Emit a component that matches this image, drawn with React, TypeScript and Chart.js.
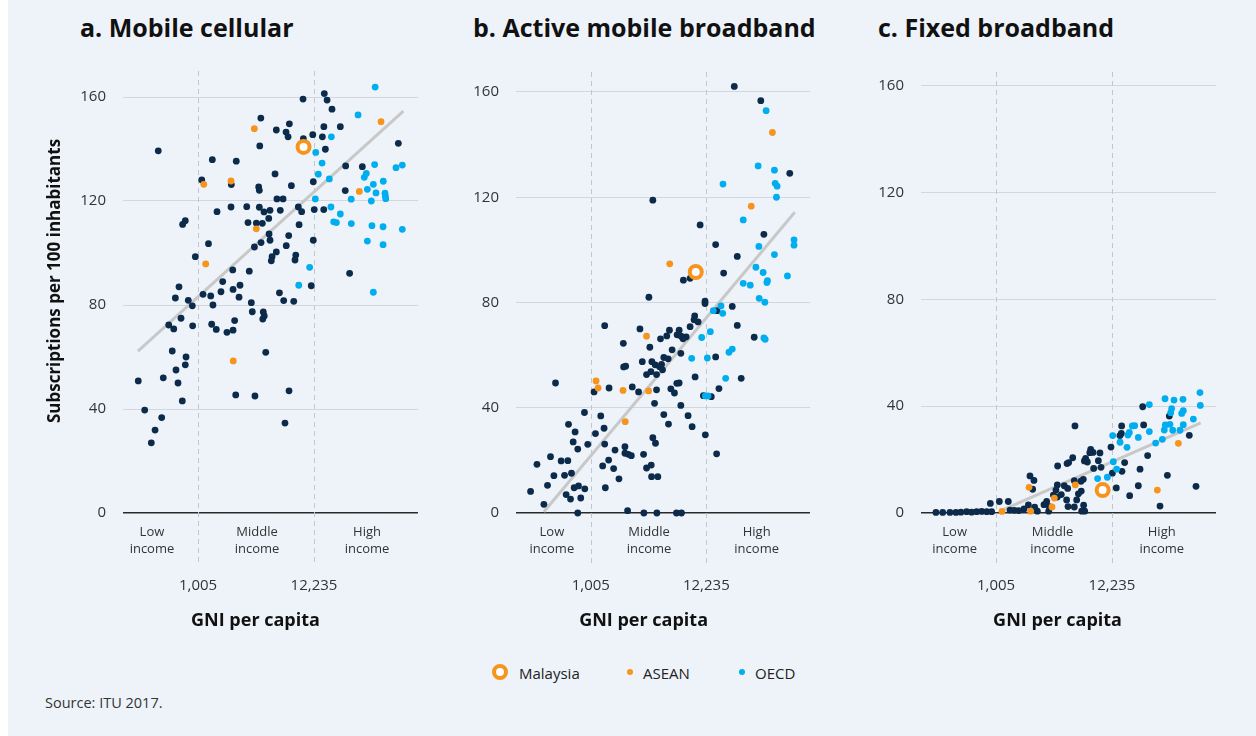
import React, { useEffect, useRef } from 'react';
import { Chart, registerables } from 'chart.js';

Chart.register(...registerables);

const FONT = '"Open Sans", "Noto Sans", sans-serif';
const NAVY = '#0c2b4b';
const ORANGE = '#f7941d';
const BLUE = '#00aeef';
const BG = '#eef3fa';

// ---- axis values ----
const GNI_THRESHOLDS = [1005, 12235];
const GNI_TICK_LABELS = ['1,005', '12,235'];
const Y_TICKS = [0, 40, 80, 120, 160];
const INCOME_GROUPS = [['Low', 'income'], ['Middle', 'income'], ['High', 'income']];
const PANEL_TITLES = ['a. Mobile cellular', 'b. Active mobile broadband', 'c. Fixed broadband'];
const LEGEND_LABELS = ['Malaysia', 'ASEAN', 'OECD'];
const Y_TITLE = 'Subscriptions per 100 inhabitants';
const X_TITLE = 'GNI per capita';

// ---- data: [log10 GNI per capita, subscriptions per 100 inhabitants] ----
// a. Mobile cellular
const cellOther: [number, number][] = [
  [2.63, 139.3], [3.037, 128.1], [3.136, 135.9], [3.314, 126.3], [3.36, 135.3], [3.59, 151.9], [3.58, 141.2],
  [3.735, 147.3], [3.826, 146.5], [3.857, 149.7], [3.845, 144.7], [3.985, 159.2], [3.988, 144], [4.076, 145.5],
  [4.184, 161.3], [4.21, 158.8], [4.256, 155.3], [4.18, 148.6], [4.166, 144.7], [4.194, 139.9], [4.334, 148.6],
  [4.384, 133.5], [4.54, 133.2], [4.877, 142.2], [4.081, 127.4], [4.38, 124], [3.876, 125.9], [3.741, 120.8],
  [3.798, 120.8], [3.57, 125.4], [3.576, 124.1], [3.723, 130.4], [3.311, 117.7], [3.458, 117.8], [3.576, 117.6],
  [3.676, 116.4], [3.62, 115.8], [3.772, 116.4], [3.941, 117.7], [3.972, 115.9], [4.09, 116.7], [4.179, 116.7],
  [3.18, 115.9], [2.858, 111], [2.883, 112.4], [3.47, 111.7], [3.548, 111.5], [3.604, 111.4], [3.664, 113.3],
  [3.948, 110.9], [3.1, 103.6], [3.667, 107.3], [3.851, 106.7], [4.081, 104.9], [3.676, 104.9], [3.592, 104],
  [3.53, 102.3], [3.828, 102.8], [2.977, 98.6], [3.735, 100.4], [3.695, 98.6], [3.688, 97], [3.917, 99.2],
  [3.91, 97.3], [3.327, 93.5], [3.482, 93], [4.421, 92.2], [4.062, 87.4], [3.233, 89], [3.395, 87.6], [3.33, 86],
  [3.217, 85.1], [2.824, 87], [3.764, 84.7], [2.79, 82.7], [3.049, 84.1], [3.121, 83.5], [2.911, 81.8],
  [2.949, 79.7], [3.142, 80], [3.386, 83], [3.501, 80.9], [3.804, 81.7], [3.898, 81.4], [2.728, 72.3],
  [2.775, 70.8], [2.843, 74.9], [2.952, 72], [3.13, 72.6], [3.173, 70.6], [3.273, 69.5], [3.33, 70.3],
  [3.345, 74], [3.51, 77.4], [3.613, 77.3], [3.622, 75.8], [3.608, 74.6], [2.761, 62.3], [2.89, 60], [2.883, 57],
  [2.796, 55], [2.815, 50], [2.677, 52], [2.443, 50.8], [2.855, 43.1], [2.503, 39.6], [2.662, 36.7], [2.6, 31.9],
  [2.565, 27], [3.636, 61.8], [3.355, 45.4], [3.535, 45], [3.854, 47], [3.816, 34.6],
];
const cellAsean: [number, number][] = [
  [3.056, 126.4], [3.311, 127.7], [3.529, 147.8], [4.715, 150.5], [4.512, 123.7], [3.548, 109.3], [3.074, 95.8], [3.332, 58.5],
];
const cellOecd: [number, number][] = [
  [4.25, 144.7], [4.104, 138.7], [4.5, 153.1], [4.66, 163.8], [4.163, 134.6], [4.128, 130.3], [4.231, 128.5],
  [4.655, 134], [4.558, 129.1], [4.577, 130.6], [4.855, 132.8], [4.914, 133.8], [4.736, 127.6], [4.643, 126.4],
  [4.587, 124.5], [4.668, 123.1], [4.752, 123], [4.755, 121.9], [4.759, 120.9], [4.436, 120.7], [4.624, 120],
  [4.1, 120.8], [4.246, 117.7], [4.334, 115], [4.272, 112], [4.297, 111.7], [4.437, 111.3], [4.63, 110.5],
  [4.734, 110.1], [4.914, 109.1], [4.587, 104.6], [4.734, 103.2], [4.047, 94.5], [4.643, 84.9], [3.945, 87.6],
];
const cellMalaysia: [number, number][] = [[3.99, 140.8]];
const cellTrend: [number, number][] = [[2.44, 62.3], [4.924, 154.6]];

// b. Active mobile broadband
const mobileOther: [number, number][] = [
  [4.35, 162.1], [4.599, 156.7], [4.871, 129.1], [3.585, 118.9], [4.029, 109.5], [4.628, 105.9], [4.175, 102],
  [4.378, 97.5], [3.872, 88.5], [3.935, 89.2], [4.25, 91.2], [3.548, 82], [4.075, 80.5], [4.075, 79.6],
  [4.331, 78.5], [4.188, 76.9], [3.978, 74.9], [3.972, 73.4], [4.01, 72.6], [3.935, 70.8], [4.378, 71.3],
  [3.133, 71.2], [3.464, 69.96], [3.741, 69.5], [3.716, 67.3], [3.657, 66.2], [3.832, 69.5], [3.813, 67.7],
  [3.851, 67.2], [3.898, 66.9], [3.869, 66.2], [4.537, 66.8], [3.308, 64.5], [3.557, 63], [3.766, 62],
  [3.848, 60.7], [4.175, 59.3], [3.729, 58.6], [3.688, 59.1], [3.667, 56.5], [3.648, 55.6], [3.576, 57.5],
  [3.607, 56.3], [3.486, 57.5], [3.33, 55.8], [3.311, 55.5], [3.526, 52.6], [3.567, 53.7], [3.62, 52.6],
  [3.676, 54.4], [3.982, 51.7], [4.415, 51.2], [2.671, 49.4], [3.033, 46], [3.174, 47.5], [3.392, 47.9],
  [3.451, 46], [3.62, 46.8], [3.754, 47.2], [3.81, 49.3], [3.788, 45.6], [3.832, 49.4], [4.206, 47.3],
  [4.134, 44.2], [4.06, 44.6], [3.601, 41.7], [3.848, 40.9], [3.688, 37.4], [3.916, 37], [3.732, 33.8],
  [3.954, 32.8], [4.078, 29.7], [4.184, 22.5], [2.943, 38.2], [3.096, 36.9], [2.793, 33.7], [2.855, 30.8],
  [3.127, 32.2], [3.046, 30.2], [2.837, 27], [2.88, 24.3], [2.974, 26.1], [3.133, 26.2], [3.23, 23.9],
  [3.323, 25.2], [3.323, 22.7], [3.355, 22.3], [3.383, 21.8], [3.585, 28.6], [3.61, 26.5], [3.498, 22.3],
  [3.17, 20.1], [3.114, 17.9], [3.217, 16.9], [3.267, 13], [3.526, 17.1], [3.57, 18.2], [3.573, 13.8],
  [3.632, 13.8], [3.139, 9.6], [2.624, 21.4], [2.497, 18.5], [2.724, 19.8], [2.787, 19.9], [2.656, 14.2],
  [2.756, 14.3], [2.821, 15.1], [2.596, 10.5], [2.437, 8.2], [2.771, 7], [2.812, 5.3], [2.846, 9.6],
  [2.887, 10.3], [2.908, 5.7], [2.946, 9.2], [2.562, 3.3], [2.88, 0], [3.348, 0.9], [3.501, 0], [3.623, 0],
  [3.807, 0], [3.854, 0],
];
const mobileAsean: [number, number][] = [
  [4.708, 144.6], [4.509, 116.6], [3.744, 94.7], [3.526, 67.2], [3.052, 50.2], [3.071, 47.5], [3.305, 46.6],
  [3.545, 46.4], [3.326, 34.7],
];
const mobileOecd: [number, number][] = [
  [4.649, 152.9], [4.574, 131.9], [4.727, 130.3], [4.244, 125], [4.734, 125.3], [4.752, 124.2], [4.746, 120],
  [4.434, 111.4], [4.911, 103.8], [4.911, 101.8], [4.581, 101.3], [4.727, 98.2], [4.553, 93.4], [4.621, 91.4],
  [4.662, 88.3], [4.656, 87.6], [4.849, 90.1], [4.434, 87.3], [4.5, 86.6], [4.584, 81.6], [4.637, 80.1],
  [4.153, 76.9], [4.225, 78.7], [4.241, 75.9], [4.044, 66.7], [4.125, 68.9], [4.628, 66.5], [4.64, 66],
  [4.331, 62.3], [4.3, 61.1], [3.95, 58.8], [4.097, 58.9], [4.269, 51.2], [4.078, 44.5], [4.103, 44.5],
];
const mobileMalaysia: [number, number][] = [[3.988, 91.6]];
const mobileTrend: [number, number][] = [[2.562, 0.5], [4.918, 114.3]];

// c. Fixed broadband
const fixedOther: [number, number][] = [
  [4.375, 39.8], [4.624, 36.3], [4.811, 29.1], [4.606, 14.1], [4.874, 10], [4.537, 2.6], [4.421, 21.5],
  [4.35, 16.4], [4.334, 10.2], [4.253, 6.5], [4.181, 15.6], [4.206, 18.9], [4.384, 33], [4.178, 32.6],
  [4.175, 29.8], [4.162, 29], [4.078, 24.7], [4.091, 14.9], [4.128, 9.4], [3.975, 22.5], [3.888, 23.8],
  [3.91, 22.7], [3.88, 22.6], [3.96, 19.6], [3.985, 17.1], [3.916, 16.7], [3.841, 20.5], [3.829, 19.5],
  [3.857, 19.1], [3.72, 20.7], [3.682, 18.9], [3.667, 18.5], [3.741, 32.6], [3.579, 17.6], [3.819, 12.6],
  [3.797, 11.9], [3.735, 12.1], [3.641, 10.2], [3.673, 9.2], [3.576, 10.5], [3.563, 8.6], [3.539, 6.7],
  [3.576, 6], [3.613, 6.9], [3.773, 7.2], [3.8, 8.2], [3.757, 4.9], [3.663, 4.9], [3.676, 2.4], [3.735, 2.25],
  [3.822, 2.9], [3.832, 0.7], [3.804, 0.7], [3.476, 4.3], [3.451, 3.1], [3.501, 2.4], [3.495, 0.7],
  [3.32, 13.9], [3.357, 12.2], [3.345, 8.9], [3.305, 3], [3.264, 1.5], [3.389, 0.7], [3.364, 2.2],
  [3.117, 4.3], [3.033, 4.3], [3.214, 0.9], [3.174, 1], [3.133, 1.1], [2.949, 3.6], [2.44, 0.2], [2.503, 0.2],
  [2.571, 0.2], [2.627, 0.2], [2.674, 0.3], [2.727, 0.5], [2.774, 0.3], [2.821, 0.5], [2.868, 0.6],
  [2.915, 0.5], [2.961, 0.5],
];
const fixedAsean: [number, number][] = [
  [4.709, 26.1], [4.512, 8.6], [3.744, 10.5], [3.548, 5.6], [3.526, 2.25], [3.311, 9.6], [3.326, 0.7], [3.058, 0.6],
];
const fixedOecd: [number, number][] = [
  [4.911, 45.1], [4.914, 40.3], [4.584, 42.8], [4.668, 42.3], [4.752, 42.6], [4.437, 40.6], [4.646, 39.1],
  [4.637, 37.6], [4.755, 38.3], [4.74, 37.3], [4.849, 35.2], [4.63, 33.2], [4.577, 31.1], [4.656, 31],
  [4.724, 31], [4.755, 33.1], [4.587, 33], [4.559, 27.6], [4.496, 26.2], [4.278, 32.6], [4.3, 32.7],
  [4.25, 30.2], [4.237, 29.2], [4.334, 28.3], [4.437, 30.5], [4.094, 29], [4.163, 26.5], [4.228, 24.6],
  [4.1, 19.2], [4.131, 16.4], [4.044, 13.4], [3.953, 12.9],
];
const fixedMalaysia: [number, number][] = [[4.0, 8.6]];
const fixedTrend: [number, number][] = [[3.061, 1.1], [4.918, 33.8]];

// ---- layout (page pixels) ----
const X_MIN = 2.3;
const X_MAX = 5.061;
const CANVAS_BOTTOM = 640;
const PLOT_BOTTOM = 513;
const Y_AXIS_W = 93;
const RIGHT_PAD = 12;
const Y_TICK_PAD = 17;
const Y_TICK_FONT = 15;
// Chart.js reserves (label half-height + tick padding) above the plot of a vertical axis
const TOP_RESERVE = (Y_TICK_FONT * 1.2) / 2 + Y_TICK_PAD;

const PANELS = [
  { other: cellOther, asean: cellAsean, oecd: cellOecd, my: cellMalaysia, trend: cellTrend, yMax: 170,
    left: 123, right: 418, top: 71, yTitle: true, titleX: 80, incomeAt: [2.571, 3.554, 4.584], xTitleAt: 3.54 },
  { other: mobileOther, asean: mobileAsean, oecd: mobileOecd, my: mobileMalaysia, trend: mobileTrend, yMax: 167.6,
    left: 516, right: 810, top: 72, yTitle: false, titleX: 473, incomeAt: [2.637, 3.55, 4.56], xTitleAt: 3.498 },
  { other: fixedOther, asean: fixedAsean, oecd: fixedOecd, my: fixedMalaysia, trend: fixedTrend, yMax: 165.2,
    left: 921, right: 1216, top: 72, yTitle: false, titleX: 878, incomeAt: [2.615, 3.531, 4.553], xTitleAt: 3.578 },
];

const toPts = (arr: [number, number][]) => arr.map(([x, y]) => ({ x, y }));

const decorPlugin = {
  id: 'decor',
  beforeDatasetsDraw(chart: any) {
    const { ctx, chartArea, scales } = chart;
    const x = scales.x;
    ctx.save();
    ctx.strokeStyle = '#c3c7cd';
    ctx.lineWidth = 1;
    ctx.setLineDash([5, 4]);
    GNI_THRESHOLDS.forEach((g) => {
      const px = Math.round(x.getPixelForValue(Math.log10(g))) + 0.5;
      ctx.beginPath();
      ctx.moveTo(px, chartArea.top);
      ctx.lineTo(px, chartArea.bottom + 52);
      ctx.stroke();
    });
    ctx.restore();
  },
  afterDraw(chart: any, _args: any, opts: any) {
    const { ctx, chartArea, scales } = chart;
    const x = scales.x;
    ctx.save();
    ctx.textAlign = 'center';
    ctx.textBaseline = 'middle';
    ctx.fillStyle = '#333';
    ctx.font = `13px ${FONT}`;
    INCOME_GROUPS.forEach((lines, i) => {
      const px = x.getPixelForValue(opts.incomeAt[i]);
      lines.forEach((t, j) => ctx.fillText(t, px, chartArea.bottom + 19 + j * 17));
    });
    ctx.fillStyle = '#111';
    ctx.font = `bold 18px ${FONT}`;
    ctx.fillText(X_TITLE, x.getPixelForValue(opts.xTitleAt), chartArea.bottom + 108);
    if (opts.yTitle) {
      ctx.translate(chartArea.left - 68, chartArea.top + 210);
      ctx.rotate(-Math.PI / 2);
      ctx.font = `bold 17px ${FONT}`;
      ctx.fillText(Y_TITLE, 0, 0);
    }
    ctx.restore();
  },
};

function Panel({ p }: { p: (typeof PANELS)[number] }) {
  const ref = useRef<HTMLCanvasElement | null>(null);
  const canvasTop = p.top - TOP_RESERVE;
  const width = p.right - p.left + Y_AXIS_W + RIGHT_PAD;
  const height = CANVAS_BOTTOM - canvasTop;
  useEffect(() => {
    if (!ref.current) return;
    const dot = (data: [number, number][], color: string, order: number) => ({
      data: toPts(data),
      backgroundColor: color,
      borderWidth: 0,
      pointRadius: 3.4,
      pointHoverRadius: 3.4,
      clip: false,
      order,
    });
    const chart = new Chart(ref.current, {
      type: 'scatter',
      data: {
        datasets: [
          {
            data: toPts(p.my),
            backgroundColor: '#ffffff',
            borderColor: ORANGE,
            borderWidth: 4,
            pointRadius: 6,
            pointBorderWidth: 4,
            clip: false,
            order: 0,
          } as any,
          dot(p.asean, ORANGE, 1),
          dot(p.oecd, BLUE, 2),
          dot(p.other, NAVY, 3),
          {
            data: toPts(p.trend),
            showLine: true,
            borderColor: '#c8c8c8',
            borderWidth: 3,
            pointRadius: 0,
            order: 10,
          } as any,
        ],
      },
      options: {
        responsive: false,
        animation: false,
        events: [],
        layout: { padding: { top: 0, right: RIGHT_PAD, left: 0, bottom: 0 } },
        plugins: {
          legend: { display: false },
          tooltip: { enabled: false },
          decor: { incomeAt: p.incomeAt, xTitleAt: p.xTitleAt, yTitle: p.yTitle },
        } as any,
        scales: {
          x: {
            type: 'linear',
            min: X_MIN,
            max: X_MAX,
            grid: { display: false, drawTicks: false },
            border: { display: false },
            afterBuildTicks: (s: any) => {
              s.ticks = GNI_THRESHOLDS.map((g) => ({ value: Math.log10(g) }));
            },
            afterFit: (s: any) => {
              s.height = CANVAS_BOTTOM - PLOT_BOTTOM;
            },
            ticks: {
              autoSkip: false,
              maxRotation: 0,
              padding: 64,
              color: '#333',
              font: { family: FONT, size: 15 },
              callback: (_v: any, i: number) => GNI_TICK_LABELS[i],
            },
          },
          y: {
            type: 'linear',
            min: 0,
            max: p.yMax,
            afterBuildTicks: (s: any) => {
              s.ticks = Y_TICKS.map((v) => ({ value: v }));
            },
            afterFit: (s: any) => {
              s.width = Y_AXIS_W;
            },
            grid: {
              drawTicks: false,
              color: (c: any) => (c.tick && c.tick.value === 0 ? '#2a2a2a' : '#d3d6dc'),
              lineWidth: (c: any) => (c.tick && c.tick.value === 0 ? 1.5 : 1),
            },
            border: { display: false },
            ticks: { padding: Y_TICK_PAD, color: '#333', font: { family: FONT, size: Y_TICK_FONT } },
          },
        },
      } as any,
      plugins: [decorPlugin as any],
    });
    return () => chart.destroy();
  }, [p]);
  return (
    <canvas
      ref={ref}
      width={width}
      height={height}
      style={{ position: 'absolute', left: p.left - Y_AXIS_W - 8, top: canvasTop, width, height }}
    />
  );
}

export default function App() {
  const txt: React.CSSProperties = { position: 'absolute', fontFamily: FONT, whiteSpace: 'nowrap' };
  return (
    <div
      style={{ position: 'absolute', left: 8, top: 0, width: 1248, height: 736, background: BG, overflow: 'hidden' }}
    >
      {PANELS.map((p, i) => (
        <div
          key={'t' + i}
          style={{ ...txt, left: p.titleX - 8, top: 11, fontSize: 25, fontWeight: 700, lineHeight: '32px', color: '#111' }}
        >
          {PANEL_TITLES[i]}
        </div>
      ))}
      {PANELS.map((p, i) => (
        <Panel key={'p' + i} p={p} />
      ))}
      {/* legend */}
      <div
        style={{
          position: 'absolute', left: 500 - 8 - 8.5, top: 672 - 8.5, width: 8, height: 8,
          border: `4.5px solid ${ORANGE}`, borderRadius: '50%', background: '#fff',
        }}
      />
      <div style={{ ...txt, left: 519 - 8, top: 663, fontSize: 15, lineHeight: '20px', color: '#222' }}>{LEGEND_LABELS[0]}</div>
      <div style={{ position: 'absolute', left: 630 - 8 - 3, top: 672 - 3, width: 6, height: 6, borderRadius: '50%', background: ORANGE }} />
      <div style={{ ...txt, left: 643 - 8, top: 663, fontSize: 15, lineHeight: '20px', color: '#222' }}>{LEGEND_LABELS[1]}</div>
      <div style={{ position: 'absolute', left: 742 - 8 - 3, top: 672 - 3, width: 6, height: 6, borderRadius: '50%', background: BLUE }} />
      <div style={{ ...txt, left: 755 - 8, top: 663, fontSize: 15, lineHeight: '20px', color: '#222' }}>{LEGEND_LABELS[2]}</div>
      <div style={{ ...txt, left: 45 - 8, top: 694, fontSize: 14.5, lineHeight: '18px', color: '#333' }}>Source: ITU 2017.</div>
    </div>
  );
}
